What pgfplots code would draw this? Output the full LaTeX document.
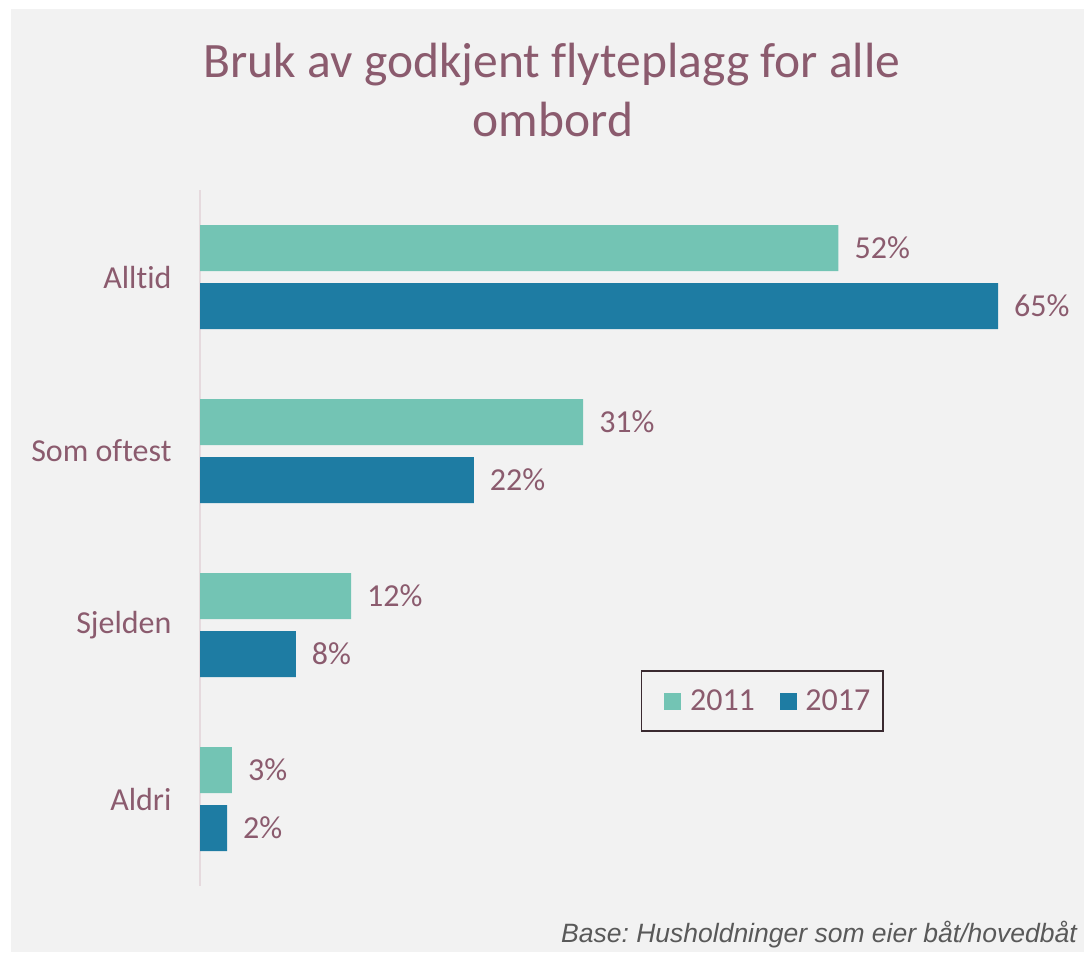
\documentclass[border=0pt]{standalone}
\usepackage{pgfplots}
\pgfplotsset{compat=1.18}
\usepackage{fontspec}
\setmainfont[Ligatures=NoCommon]{Carlito}
\newfontfamily\footfont{Liberation Sans}
\frenchspacing
\definecolor{mauve}{RGB}{139,91,110}
\definecolor{cA}{RGB}{115,196,180}
\definecolor{cB}{RGB}{30,124,163}
\definecolor{bg}{RGB}{242,242,242}
\definecolor{axl}{RGB}{230,218,222}
\definecolor{legbox}{RGB}{58,42,48}
\begin{document}
\begin{tikzpicture}[x=1pt,y=1pt]
\fill[white] (0,0) rectangle (1084,954);
\fill[bg] (11,2) rectangle (1084,945);
\node[anchor=base, text=mauve, font=\fontsize{49.5}{58}\selectfont, inner sep=0] at (552,876) {Bruk av godkjent flyteplagg for alle};
\node[anchor=base, text=mauve, font=\fontsize{49.5}{58}\selectfont, inner sep=0] at (553,817) {ombord};
\node[anchor=base east, text=black!65, font=\footfont\itshape\fontsize{26.5}{30}\selectfont, inner sep=0] at (1077,12) {Base: Husholdninger som eier båt/hovedbåt};
\begin{axis}[
  at={(200pt,68pt)}, anchor=south west,
  scale only axis, width=859.4pt, height=696pt,
  xmin=0, xmax=70, ymin=-0.5, ymax=3.5, y dir=reverse,
  xbar, bar width=46pt,
  axis x line=none,
  axis y line*=left,
  y axis line style={draw=axl, line width=2pt, -},
  ytick={0,1,2,3},
  yticklabels={Alltid,Som oftest,Sjelden,Aldri},
  major tick length=0pt,
  yticklabel style={font=\fontsize{32}{38}\selectfont, text=mauve, xshift=-25pt},
  point meta=x,
  nodes near coords={\pgfmathprintnumber[fixed,precision=0]{\pgfplotspointmeta}\%},
  nodes near coords style={font=\fontsize{32}{38}\selectfont, text=mauve, anchor=west, inner sep=0pt, xshift=16pt},
  /pgf/number format/assume math mode=true,
  clip=false,
  legend columns=2,
  legend style={at={(axis cs:45.8,2.437)}, anchor=center, draw=legbox, line width=1.5pt, fill=none,
    font=\fontsize{32}{38}\selectfont, text=mauve, inner xsep=11pt, inner ysep=17pt,
    /tikz/every even column/.append style={column sep=10.7pt}},
  legend image code/.code={\path (-12pt,0pt) (23.7pt,0pt); \fill[#1, draw=none] (0pt,-8.5pt) rectangle (17pt,8.5pt);},
]
\addplot[fill=cA, draw=none, bar shift=29pt] coordinates {(52,0) (31.2,1) (12.3,2) (2.6,3)};
\addplot[fill=cB, draw=none, bar shift=-29pt] coordinates {(65,0) (22.3,1) (7.8,2) (2.2,3)};
\legend{2011,2017}
\end{axis}
\end{tikzpicture}
\end{document}
